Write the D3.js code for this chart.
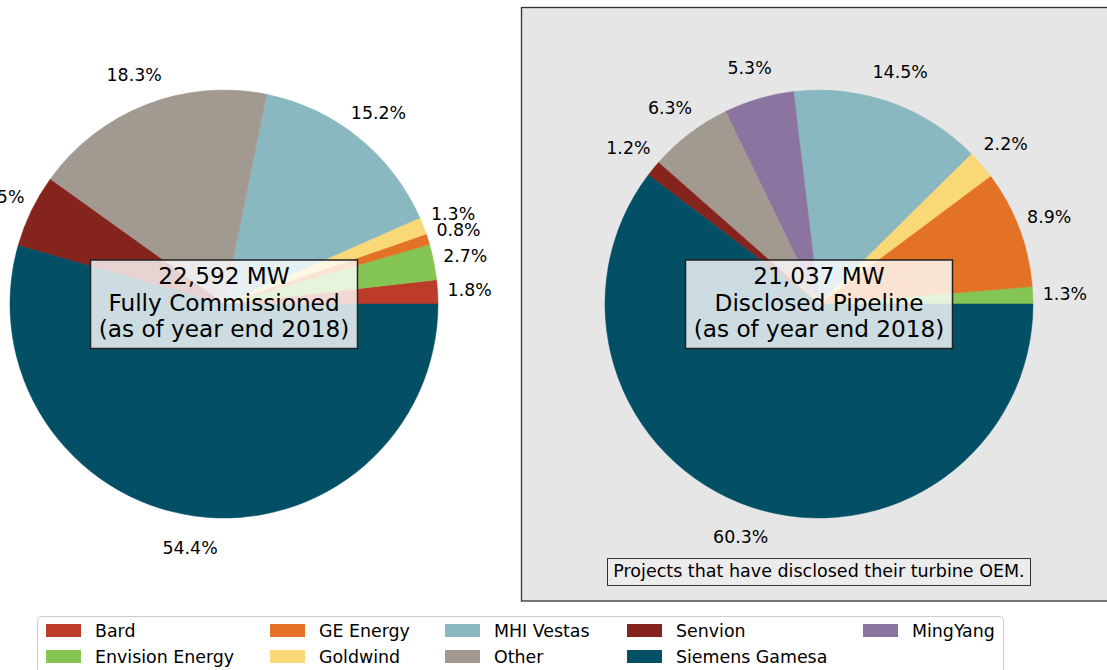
<!DOCTYPE html>
<html>
  <head>
    <meta http-equiv="Content-Type" content="text/html;charset=utf-8"/>
    <title>Offshore wind turbine OEM share</title>
    <script src="https://cdn.jsdelivr.net/npm/d3@7"></script>
    <style>
      body { margin: 0; background: #fff; }
      text { font-family: "DejaVu Sans", sans-serif; fill: #000; }
    </style>
  </head>
  <body>
    <svg id="target"></svg>
  </body>
  <script>
    // OEMs in plotting order (alphabetical, as in the pies)
    var oems = [ "Bard", "Envision Energy", "GE Energy", "Goldwind", "MHI Vestas", "MingYang", "Other", "Senvion", "Siemens Gamesa" ];
    var colors = [ "#bd3b29", "#84c553", "#e37226", "#f9d877", "#89b8c1", "#8b74a0", "#a29a91", "#85241c", "#034f66" ];
    // share of capacity, percent
    var commissioned = [ 1.8, 2.7, 0.8, 1.3, 15.2, 0, 18.3, 5.5, 54.4 ];
    var pipeline = [ 0, 1.3, 8.9, 2.2, 14.5, 5.3, 6.3, 1.2, 60.3 ];
    var legendOrder = [ "Bard", "Envision Energy", "GE Energy", "Goldwind", "MHI Vestas", "Other", "Senvion", "Siemens Gamesa", "MingYang" ];
    var commissionedTitle = [ "22,592 MW", "Fully Commissioned", "(as of year end 2018)" ];
    var pipelineTitle = [ "21,037 MW", "Disclosed Pipeline", "(as of year end 2018)" ];
    var pipelineNote = "Projects that have disclosed their turbine OEM.";

    var width = 1107, height = 670;
    var radius = 214;
    var svg = d3.select( "#target" ).attr( "width", width ).attr( "height", height );

    var color = d3.scaleOrdinal().domain( oems ).range( colors );

    // grey panel behind the pipeline pie
    svg.append( "rect" )
      .attr( "x", 521.5 ).attr( "y", 7.5 )
      .attr( "width", 620 ).attr( "height", 593.5 )
      .attr( "fill", "#e6e6e6" )
      .attr( "stroke", "#333" ).attr( "stroke-width", 1.3 );

    // matplotlib style: start at 3 o'clock, go counter-clockwise
    var pie = d3.pie().sort( null ).value( d => d.v )
      .startAngle( Math.PI / 2 ).endAngle( Math.PI / 2 - 2 * Math.PI );
    var arc = d3.arc().innerRadius( 0 ).outerRadius( radius );
    var labelArc = d3.arc().innerRadius( radius * 1.15 ).outerRadius( radius * 1.15 );

    function drawPie( cx, cy, values, title ) {
      var data = oems.map( ( k, i ) => ( { k: k, v: values[i] } ) );
      var g = svg.append( "g" ).attr( "transform", "translate(" + cx + "," + cy + ")" );
      var arcs = pie( data ).filter( d => d.data.v > 0 );
      g.selectAll( "path" ).data( arcs )
        .enter().append( "path" )
          .attr( "d", arc )
          .attr( "fill", d => color( d.data.k ) )
          .attr( "stroke", d => color( d.data.k ) )
          .attr( "stroke-width", 0.5 );
      g.selectAll( "text.pct" ).data( arcs )
        .enter().append( "text" )
          .attr( "class", "pct" )
          .attr( "transform", d => "translate(" + labelArc.centroid( d ) + ")" )
          .attr( "text-anchor", "middle" )
          .attr( "dy", "0.35em" )
          .style( "font-size", "17.4px" )
          .text( d => d.data.v.toFixed( 1 ) + "%" );

      // centre caption box
      g.append( "rect" )
        .attr( "x", -133.5 ).attr( "y", -44 )
        .attr( "width", 267 ).attr( "height", 88.5 )
        .attr( "fill", "#fff" ).attr( "fill-opacity", 0.8 )
        .attr( "stroke", "#222" ).attr( "stroke-width", 1.5 );
      var t = g.append( "text" )
        .attr( "text-anchor", "middle" )
        .style( "font-size", "23.2px" );
      t.selectAll( "tspan" ).data( title )
        .enter().append( "tspan" )
          .attr( "x", 0 )
          .attr( "y", ( d, i ) => -20 + i * 26.5 )
          .text( d => d );
    }

    drawPie( 224, 304, commissioned, commissionedTitle );
    drawPie( 819, 304, pipeline, pipelineTitle );

    // note under the pipeline pie
    svg.append( "rect" )
      .attr( "x", 607.5 ).attr( "y", 558.5 )
      .attr( "width", 423 ).attr( "height", 27 )
      .attr( "fill", "#ececec" )
      .attr( "stroke", "#333" ).attr( "stroke-width", 1 );
    svg.append( "text" )
      .attr( "x", 819 ).attr( "y", 577 )
      .attr( "text-anchor", "middle" )
      .style( "font-size", "17.5px" )
      .text( pipelineNote );

    // legend, 5 columns x 2 rows, column-major
    var legend = svg.append( "g" );
    legend.append( "rect" )
      .attr( "x", 37.5 ).attr( "y", 616.5 )
      .attr( "width", 966 ).attr( "height", 80 )
      .attr( "rx", 4 )
      .attr( "fill", "#fff" ).attr( "stroke", "#ccc" );
    var colX = [ 46, 270, 445, 627, 863 ];
    var rowY = [ 624, 650 ];
    var items = legend.selectAll( "g.item" ).data( legendOrder )
      .enter().append( "g" )
        .attr( "class", "item" )
        .attr( "transform", ( d, i ) => "translate(" + colX[Math.floor( i / 2 )] + "," + rowY[i % 2] + ")" );
    items.append( "rect" )
      .attr( "width", 35 ).attr( "height", 13 )
      .attr( "fill", d => color( d ) );
    items.append( "text" )
      .attr( "x", 49 ).attr( "y", 13 )
      .style( "font-size", "17.4px" )
      .text( d => d );
  </script>
</html>
